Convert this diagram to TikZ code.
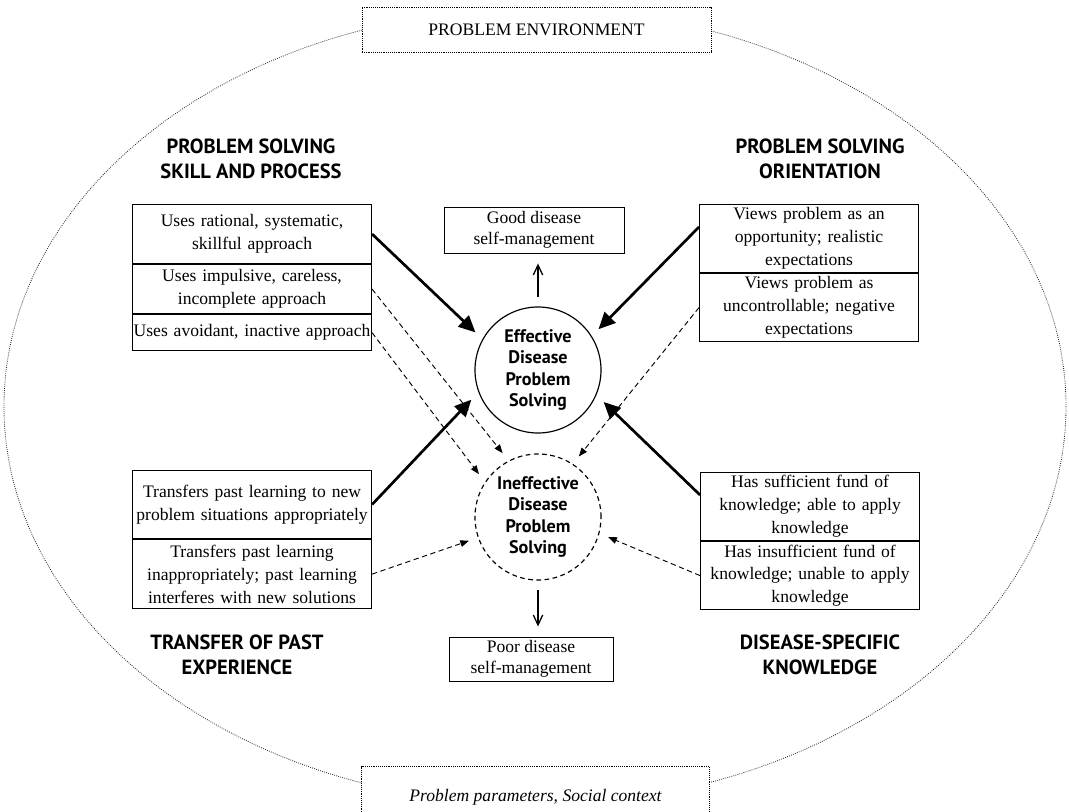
\documentclass[tikz,border=0pt]{standalone}
\usepackage{fontspec}
\setmainfont{Liberation Serif}
\newfontfamily\headfont{PT Sans}
\usetikzlibrary{arrows.meta,positioning}

\tikzset{
  fila/.style={draw, line width=0.9pt, anchor=north west, align=center,
    inner xsep=1pt, inner ysep=0pt, font=\fontsize{15}{19.5}\selectfont},
  caja/.style={draw, line width=0.8pt, align=center, inner sep=1pt,
    font=\fontsize{15}{17.5}\selectfont},
  titulo/.style={align=center, font=\headfont\bfseries\fontsize{17.5}{21.3}\selectfont},
  circulo/.style={circle, draw, line width=1pt, minimum size=3.78cm, outer sep=0.3cm,
    align=center, font=\headfont\bfseries\fontsize{15.5}{18}\selectfont},
  grueso/.style={line width=2.3pt, -{Triangle[length=5mm,width=4.6mm]}},
  debil/.style={line width=0.8pt, dash pattern=on 4.5pt off 3pt, -{Triangle[length=2.6mm,width=2mm]}},
  salida/.style={line width=1.1pt, -{Straight Barb[length=3mm,width=2.8mm]}},
  marco/.style={line width=0.8pt, dash pattern=on 0.8pt off 0.8pt}
}

\begin{document}
\begin{tikzpicture}[x=0.03cm, y=-0.03cm]
\useasboundingbox (0,0) rectangle (1069,811);

% Entorno
\draw[line width=0.7pt, dash pattern=on 0.7pt off 1.1pt, black!85] (535,406.5) ellipse [x radius=531, y radius=398];
\node[marco, draw, fill=white, minimum width=10.47cm, minimum height=1.35cm,
  font=\fontsize{15}{18}\selectfont] (env) at (536.5,29.5) {PROBLEM ENVIRONMENT};
\node[fill=white, minimum width=10.41cm, minimum height=1.8cm,
  font=\itshape\fontsize{15}{18}\selectfont] (ctx) at (535.5,797) {Problem parameters, Social context};
\draw[marco] (ctx.south west) |- (ctx.north east) -- (ctx.south east);

% Titulos
\node[titulo] (tsk) at (251,158.5) {PROBLEM SOLVING\\SKILL AND PROCESS};
\node[titulo] (tor) at (820,158.5) {PROBLEM SOLVING\\ORIENTATION};
\node[titulo] (ttr) at (237,654.5) {TRANSFER OF PAST\\EXPERIENCE};
\node[titulo] (tkn) at (820,654.5) {DISEASE-SPECIFIC\\KNOWLEDGE};

% Circulos
\node[circulo] (eff) at (538,370) {Effective\\Disease\\Problem\\Solving};
\node[circulo, dash pattern=on 4pt off 3pt] (ine) at (538,517) {Ineffective\\Disease\\Problem\\Solving};

% Resultados
\node[caja, minimum width=5.4cm, minimum height=1.38cm] (good) at (534,230) {Good disease\\self-management};
\node[caja, minimum width=4.92cm, minimum height=1.32cm] (poor) at (531,659) {Poor disease\\self-management};
\draw[salida, shorten >=0.3cm] (eff.north) -- (eff.north |- good.south);
\draw[salida, shorten >=0.3cm] (ine.south) -- (ine.south |- poor.north);

% Habilidad y proceso
\node[fila, text width=7.1cm, minimum height=1.77cm] (sk1) at (132,204) {Uses rational, systematic,\\skillful approach};
\node[fila, text width=7.1cm, minimum height=1.47cm] (sk2) at (sk1.south west) {Uses impulsive, careless,\\incomplete approach};
\node[fila, text width=7.1cm, minimum height=1.08cm] (sk3) at (sk2.south west) {Uses avoidant, inactive approach};

% Orientacion
\node[fila, text width=6.5cm, minimum height=2.04cm] (op1) at (699,204) {Views problem as an\\opportunity; realistic\\expectations};
\node[fila, text width=6.5cm, minimum height=2.04cm] (op2) at (op1.south west) {Views problem as\\uncontrollable; negative\\expectations};

% Experiencia previa
\node[fila, text width=7.1cm, minimum height=2.04cm] (tr1) at (132,470) {Transfers past learning to new\\problem situations appropriately};
\node[fila, text width=7.1cm, minimum height=2.07cm] (tr2) at (tr1.south west) {Transfers past learning\\inappropriately; past learning\\interferes with new solutions};

% Conocimiento
\node[fila, text width=6.5cm, minimum height=2.04cm] (kn1) at (700,472) {Has sufficient fund of\\knowledge; able to apply\\knowledge};
\node[fila, text width=6.5cm, minimum height=2.04cm] (kn2) at (kn1.south west) {Has insufficient fund of\\knowledge; unable to apply\\knowledge};

% Flechas
\draw[grueso] (sk1.east) -- (eff.149);
\draw[grueso] (op1.174) -- (eff.34);
\draw[grueso] (tr1.east) -- (eff.204);
\draw[grueso] (kn1.174) -- (eff.334);
\draw[debil] (sk2.east) -- (ine.119);
\draw[debil] (sk3.east) -- (ine.144);
\draw[debil] (op2.west) -- (ine.56);
\draw[debil] (tr2.east) -- (ine.199);
\draw[debil] (kn2.west) -- (ine.344);
\end{tikzpicture}
\end{document}
